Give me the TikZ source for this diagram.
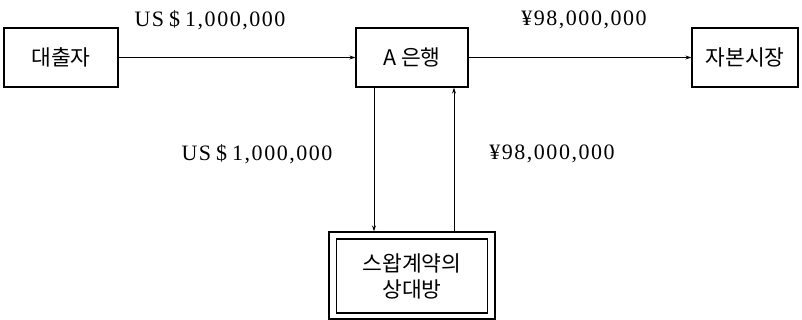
\documentclass[tikz,border=0pt]{standalone}
\usepackage{fontspec}
\setmainfont{Liberation Serif}
\newfontfamily\kr{Noto Sans CJK KR}
\newfontfamily\amtfont[LetterSpace=7]{Liberation Serif}
\usetikzlibrary{arrows.meta}
\tikzset{
  box/.style={draw, line width=1.3pt, inner sep=0pt, font=\kr\fontsize{21.5}{24}\selectfont},
  flow/.style={line width=0.9pt, -{Stealth[length=6pt,width=4pt]}},
  amt/.style={font=\amtfont\fontsize{22}{24}\selectfont, inner sep=0pt}
}
\begin{document}
\begin{tikzpicture}[x=1pt,y=-1pt]
\useasboundingbox (0,0) rectangle (802,320);
\node[box, minimum width=114pt, minimum height=59pt] (lender) at (61,57.5) {대출자};
\node[box, minimum width=112pt, minimum height=59pt] (bank) at (412,57.5) {A 은행};
\node[box, minimum width=106pt, minimum height=59pt] (market) at (745,57.5) {자본시장};
\node[draw, line width=1.3pt, minimum width=166pt, minimum height=87pt, inner sep=0pt] (outer) at (412,275.5) {};
\node[box, minimum width=151pt, minimum height=74pt, align=center, font=\kr\fontsize{21.5}{26}\selectfont] (cp) at (412,276) {스왑계약의\\상대방};
\coordinate (d1) at (374,0 |- bank.south);
\coordinate (u1) at (454,0 |- bank.south);
\draw[flow] (lender.east) -- (bank.west);
\draw[flow] (bank.east) -- (market.west);
\draw[flow] (d1) -- (d1 |- outer.north);
\draw[flow] (u1 |- outer.north) -- (u1);
\node[amt] (l1) at (210,20) {US\kern5pt\$\kern5pt1,000,000};
\node[amt] (l2) at (584,20) {¥98,000,000};
\node[amt] (l3) at (257,154) {US\kern5pt\$\kern5pt1,000,000};
\node[amt] (l4) at (552,154) {¥98,000,000};
\end{tikzpicture}
\end{document}
